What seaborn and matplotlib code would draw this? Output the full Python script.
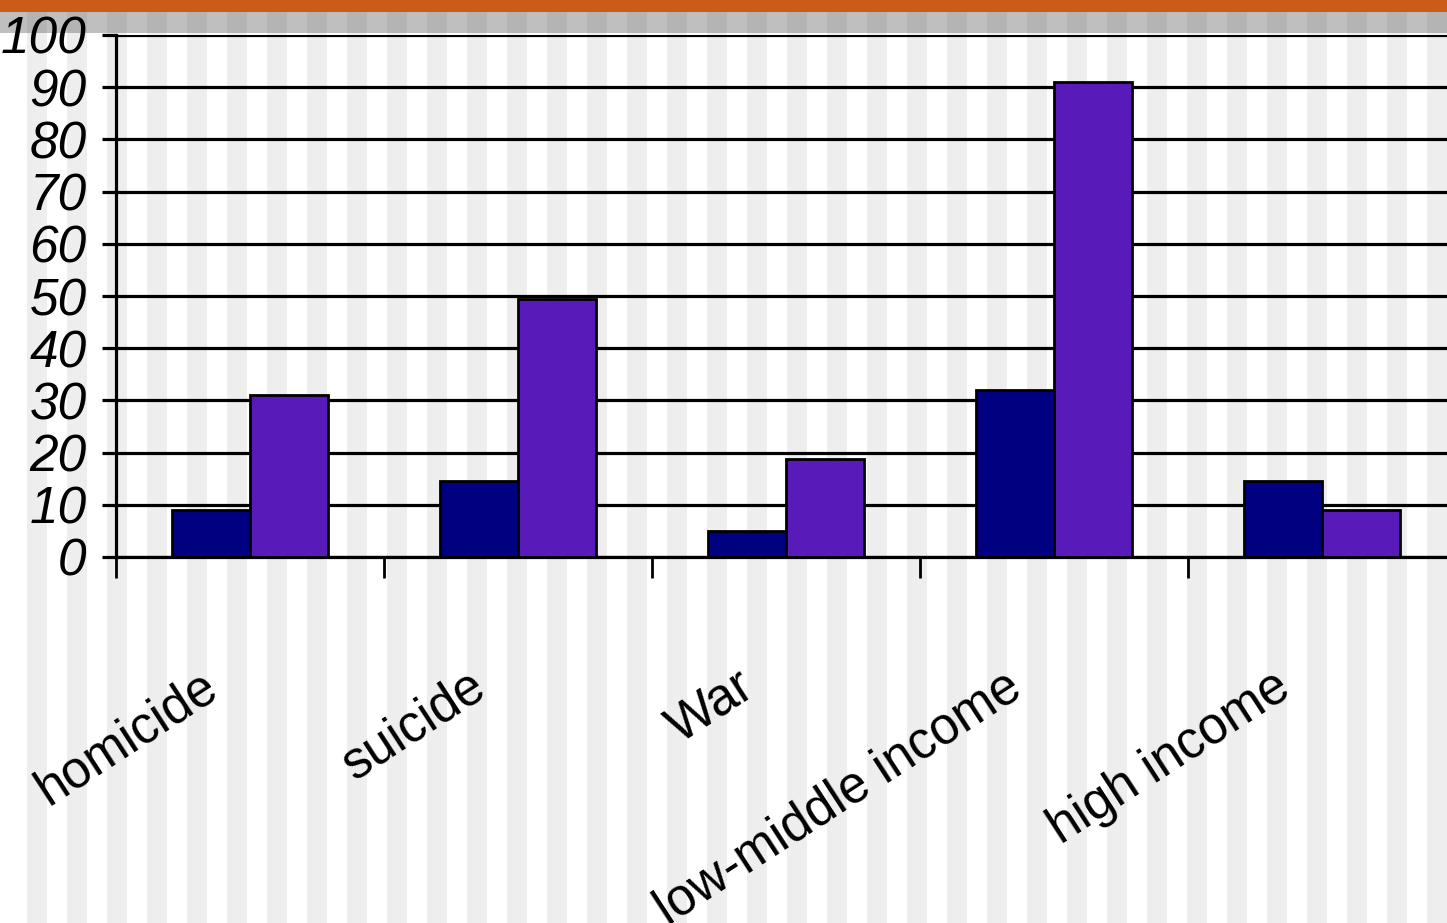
import matplotlib
matplotlib.use("Agg")
import matplotlib.pyplot as plt
import matplotlib.transforms as mtransforms
from matplotlib.patches import Rectangle
from matplotlib import font_manager
import seaborn as sns
import pandas as pd

# ---- data ----
categories = ["homicide", "suicide", "War", "low-middle income", "high income"]
series_names = ["Series 1", "Series 2"]
series1_values = [9, 14.5, 5, 32, 14.5]
series2_values = [31, 49.5, 18.8, 91, 9]
y_ticks = [0, 10, 20, 30, 40, 50, 60, 70, 80, 90, 100]
y_tick_labels = [str(v) for v in y_ticks]
bar_colors = ["#000080", "#581ab8"]

df = pd.DataFrame({
    "category": categories * 2,
    "series": [series_names[0]] * len(categories) + [series_names[1]] * len(categories),
    "value": series1_values + series2_values,
})

sns.set_style("white")
plt.rcParams["text.color"] = "black"
plt.rcParams["xtick.color"] = "black"
plt.rcParams["ytick.color"] = "black"


def pick_font(candidates):
    for name in candidates:
        try:
            font_manager.findfont(font_manager.FontProperties(family=name),
                                  fallback_to_default=False)
            return name
        except Exception:
            continue
    return "DejaVu Sans"


label_font = pick_font(["Liberation Sans", "DejaVu Sans"])

W, H = 1447, 923
fig = plt.figure(figsize=(W / 100, H / 100), dpi=100)
fig.patch.set_facecolor("white")

# striped backdrop
for x0 in range(27, W, 40):
    fig.add_artist(Rectangle((x0 / W, 0), 20 / W, 1, transform=fig.transFigure,
                             facecolor="#eeeeee", lw=0, zorder=-10))
# header band
fig.add_artist(Rectangle((0, (H - 33) / H), 1, 21 / H, transform=fig.transFigure,
                         facecolor="#bfbfbf", lw=0, zorder=-9))
for x0 in range(27, W, 40):
    fig.add_artist(Rectangle((x0 / W, (H - 33) / H), 20 / W, 21 / H,
                             transform=fig.transFigure,
                             facecolor="#b4b4b4", lw=0, zorder=-8))
fig.add_artist(Rectangle((0, (H - 12) / H), 1, 12 / H, transform=fig.transFigure,
                         facecolor="#cb5c17", lw=0, zorder=-7))

ax = fig.add_axes([116 / W, (H - 557) / H, 1340 / W, 522 / H])
ax.set_facecolor("none")

sns.barplot(data=df, x="category", y="value", hue="series", order=categories,
            hue_order=series_names, palette=bar_colors, saturation=1,
            width=0.58, gap=0, edgecolor="black", linewidth=2.0, legend=False,
            ax=ax, zorder=3)

ax.set_xlim(-0.5, len(categories) - 0.5)
ax.set_ylim(0, 100)
ax.set_xlabel("")
ax.set_ylabel("")

# horizontal grid
ax.set_yticks(y_ticks)
ax.set_yticklabels(y_tick_labels, fontfamily=label_font, fontstyle="italic",
                   fontsize=37, color="black")
ax.yaxis.grid(True, color="black", linewidth=2.3, zorder=1)
ax.set_axisbelow(True)
ax.tick_params(axis="y", direction="out", length=10, width=2.3, color="black",
               pad=11, left=True)

# category boundary ticks
ax.set_xticks([i - 0.5 for i in range(len(categories) + 1)])
ax.set_xticklabels([])
ax.tick_params(axis="x", direction="out", length=15, width=2.0, color="black",
               bottom=True)

for side in ["top", "right"]:
    ax.spines[side].set_visible(False)
ax.spines["left"].set_color("black")
ax.spines["left"].set_linewidth(2.3)
ax.spines["bottom"].set_color("black")
ax.spines["bottom"].set_linewidth(2.3)

# rotated category labels
trans = mtransforms.blended_transform_factory(ax.transData, ax.transAxes)
for i, lab in enumerate(categories):
    ax.text(i - 0.11, -0.262, lab, transform=trans, rotation=33,
            rotation_mode="anchor", ha="right", va="baseline",
            fontsize=37, fontfamily=label_font, color="black")

fig.savefig("out.png", dpi=100)
